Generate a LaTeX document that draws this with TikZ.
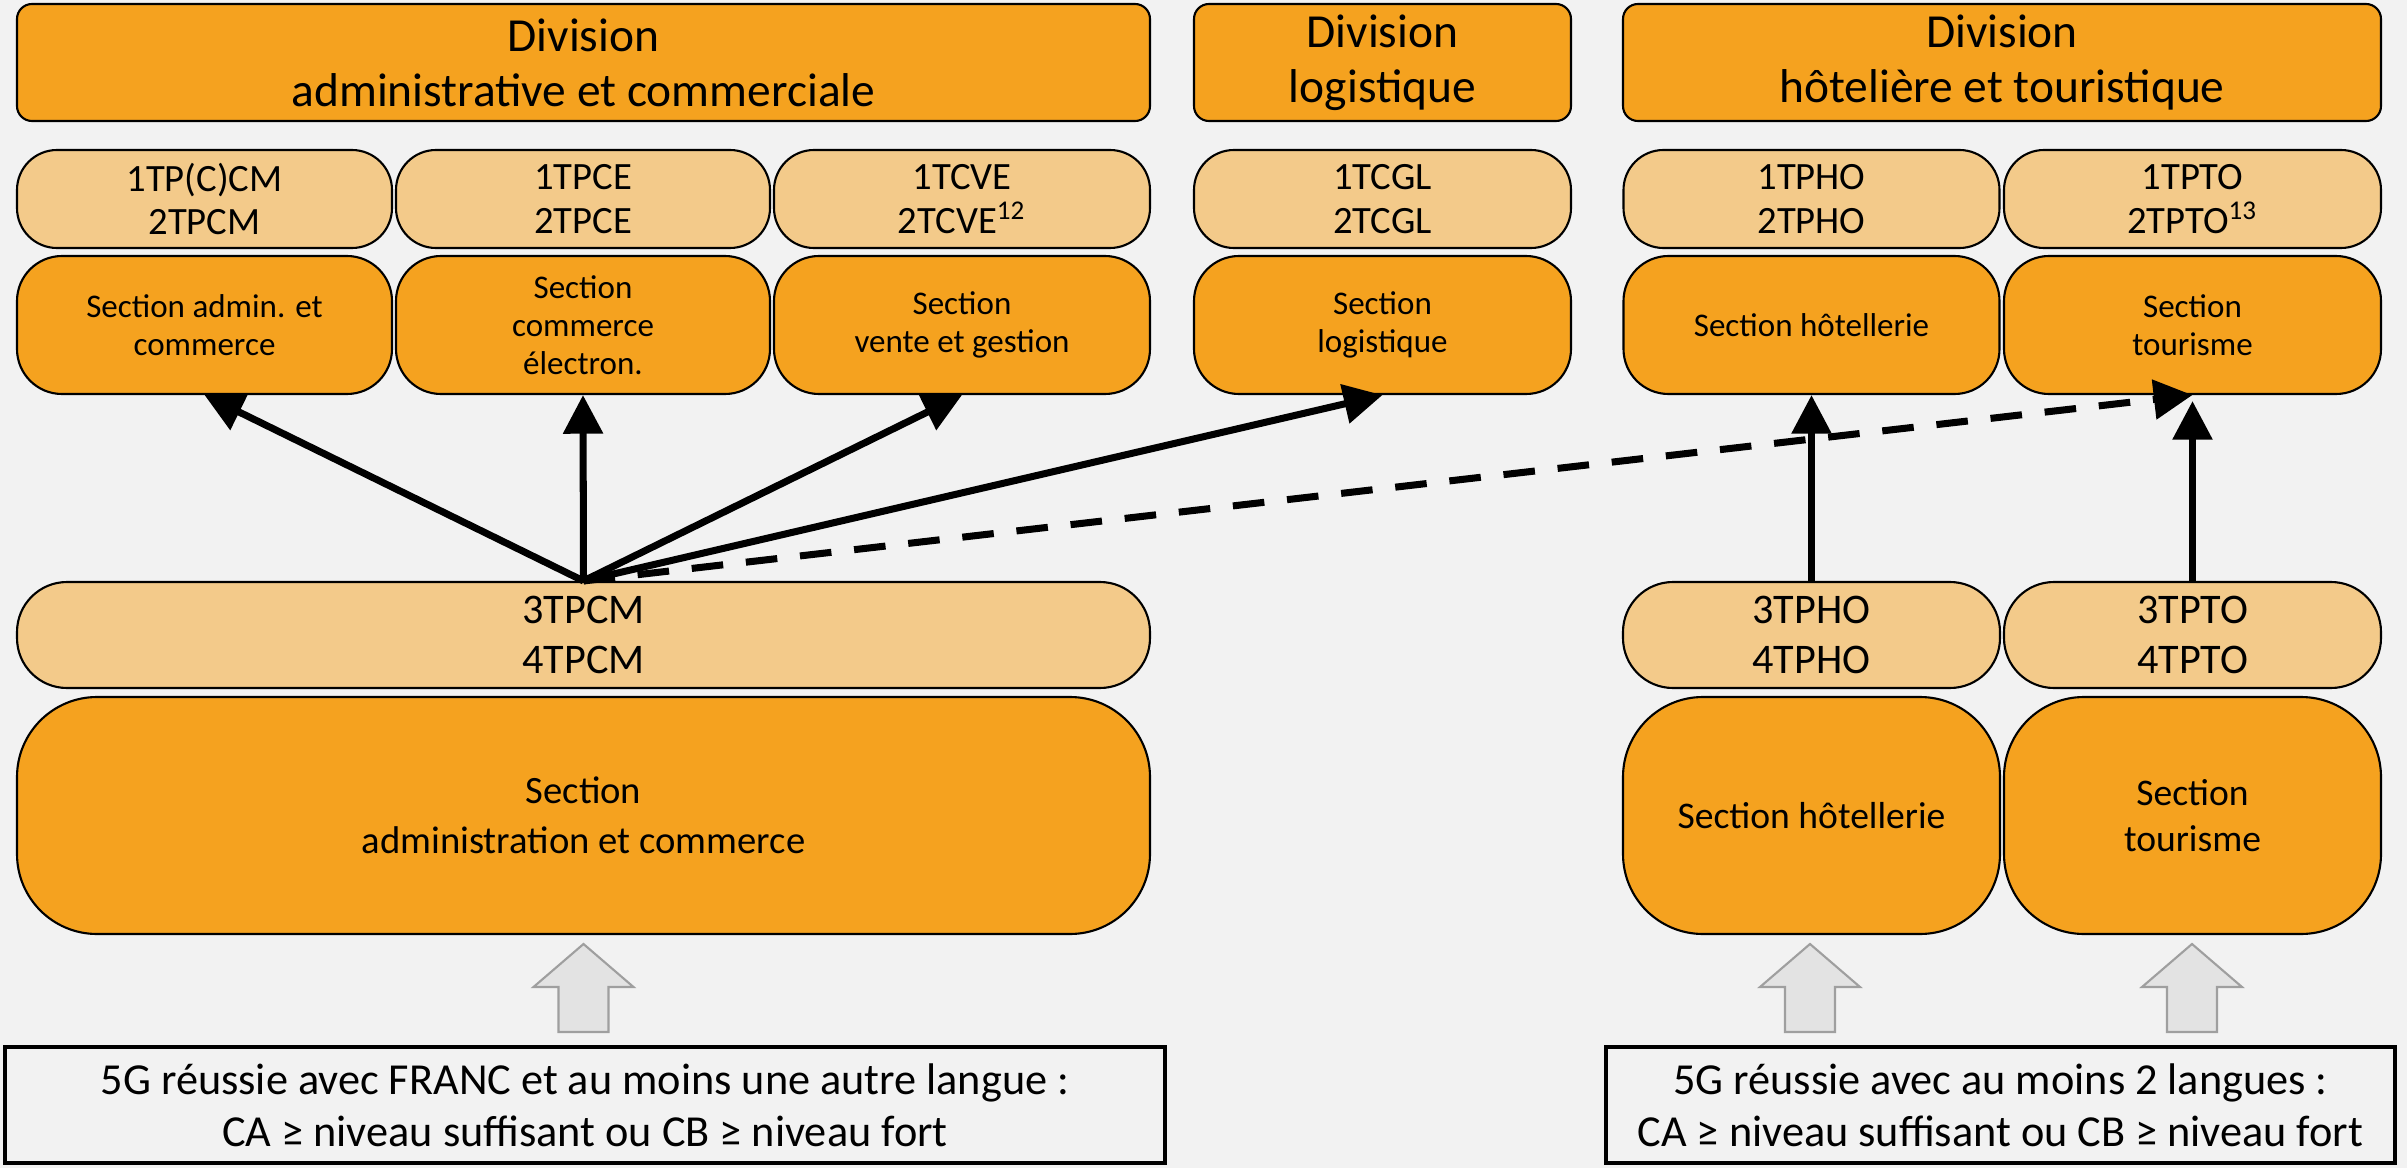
\documentclass[tikz,border=0pt]{standalone}
\usepackage{fontspec}
\setmainfont{Carlito}
\usetikzlibrary{arrows.meta,calc,positioning}
\definecolor{fonce}{HTML}{F5A21F}
\definecolor{clair}{HTML}{F3CA8A}
\definecolor{fond}{HTML}{F2F2F2}
\tikzset{
	division/.style={draw, fill=fonce, line width=0.6pt, rounded corners=1.5mm, align=center,
		inner sep=0pt, minimum height=11.7mm, font=\fontsize{13.5}{15.6}\selectfont},
	annee/.style={draw, fill=clair, line width=0.6pt, rounded corners=4mm, align=center,
		inner sep=0pt, minimum height=9.8mm, font=\fontsize{11}{12.5}\selectfont},
	section/.style={draw, fill=fonce, line width=0.6pt, rounded corners=4.5mm, align=center,
		inner sep=0pt, minimum height=13.8mm, font=\fontsize{9.4}{10.8}\selectfont},
	grande/.style={draw, fill=fonce, line width=0.6pt, rounded corners=8mm, align=center,
		inner sep=0pt, minimum height=23.7mm},
	critere/.style={draw, fill=fond, line width=1.4pt, align=center, inner sep=0pt,
		minimum height=11.6mm, font=\fontsize{12.6}{14.8}\selectfont},
	fleche/.style={-{Triangle[length=11pt,width=11pt]}, line width=2pt},
	bloc/.style={draw=gray!75, fill=gray!22, line width=0.6pt}
}
\begin{document}
\begin{tikzpicture}[x=0.1mm, y=-0.1mm]
	% fond
	\fill[fond] (0,0) rectangle (2407,1168);
	\useasboundingbox (0,0) rectangle (2407,1168);

	% divisions
	\node[division, minimum width=113.3mm] (divAC) at (583.5,62.5) {Division\\administrative et commerciale};
	\node[division, minimum width=37.7mm] (divLG) at (1382.5,62.5) {Division\\logistique};
	\node[division, minimum width=75.8mm] (divHT) at (2002,62.5) {Division\\hôtelière et touristique};

	% 1re et 2e annees
	\node[annee, minimum width=37.5mm] (aCM) at (204.5,199) {1TP(C)CM\\2TPCM};
	\node[annee, minimum width=37.4mm] (aCE) at (583,199) {1TPCE\\2TPCE};
	\node[annee, minimum width=37.6mm] (aVE) at (962,199) {1TCVE\\2TCVE\textsuperscript{12}};
	\node[annee, minimum width=37.7mm] (aGL) at (1382.5,199) {1TCGL\\2TCGL};
	\node[annee, minimum width=37.6mm] (aHO) at (1811.5,199) {1TPHO\\2TPHO};
	\node[annee, minimum width=37.7mm] (aTO) at (2192.5,199) {1TPTO\\2TPTO\textsuperscript{13}};

	% sections du haut
	\node[section, minimum width=37.5mm] (sAC) at (204.5,325) {Section admin. et\\commerce};
	\node[section, minimum width=37.4mm] (sCE) at (583,325) {Section\\commerce\\électron.};
	\node[section, minimum width=37.6mm] (sVG) at (962,325) {Section\\vente et gestion};
	\node[section, minimum width=37.7mm] (sLG) at (1382.5,325) {Section\\logistique};
	\node[section, minimum width=37.6mm] (sHO) at (1811.5,325) {Section hôtellerie};
	\node[section, minimum width=37.7mm] (sTO) at (2192.5,325) {Section\\tourisme};

	% 3e et 4e annees
	\node[annee, rounded corners=5mm, minimum height=10.6mm, minimum width=113.3mm, font=\fontsize{12}{14}\selectfont] (bCM) at (583.5,635) {3TPCM\\4TPCM};
	\node[annee, rounded corners=5mm, minimum height=10.6mm, minimum width=37.7mm, font=\fontsize{12}{14}\selectfont] (bHO) at (1811.5,635) {3TPHO\\4TPHO};
	\node[annee, rounded corners=5mm, minimum height=10.6mm, minimum width=37.7mm, font=\fontsize{12}{14}\selectfont] (bTO) at (2192.5,635) {3TPTO\\4TPTO};

	% sections du bas
	\node[grande, minimum width=113.3mm, font=\fontsize{11}{14.2}\selectfont] (gAC) at (583.5,815.5) {Section\\administration et commerce};
	\node[grande, minimum width=37.7mm, font=\fontsize{10.7}{13}\selectfont] (gHO) at (1811.5,815.5) {Section hôtellerie};
	\node[grande, minimum width=37.7mm, font=\fontsize{10.7}{13}\selectfont] (gTO) at (2192.5,815.5) {Section\\tourisme};

	% conditions
	\node[critere, minimum width=116mm] (cAC) at (585,1105) {5G réussie avec FRANC et au moins une autre langue :\\CA ≥ niveau suffisant ou CB ≥ niveau fort};
	\node[critere, minimum width=78.9mm] (cHT) at (2000.5,1105) {5G réussie avec au moins 2 langues :\\CA ≥ niveau suffisant ou CB ≥ niveau fort};

	% grosses fleches grises
	\draw[bloc, shift={(583.5,0)}] (0,944) -- (50,987) -- (25,987) -- (25,1032) -- (-25,1032) -- (-25,987) -- (-50,987) -- cycle;
	\draw[bloc, shift={(1810,0)}] (0,944) -- (50,987) -- (25,987) -- (25,1032) -- (-25,1032) -- (-25,987) -- (-50,987) -- cycle;
	\draw[bloc, shift={(2192,0)}] (0,944) -- (50,987) -- (25,987) -- (25,1032) -- (-25,1032) -- (-25,987) -- (-50,987) -- cycle;

	% passages
	\draw[fleche] (bCM.north) -- (sAC.south);
	\draw[fleche] (bCM.north) -- (sCE.south);
	\draw[fleche] (bCM.north) -- (sVG.south);
	\draw[fleche] (bCM.north) -- (sLG.south);
	\draw[fleche, dash pattern=on 9pt off 6.5pt] (bCM.north) -- (sTO.south);
	\draw[fleche] (bHO.north) -- (sHO.south);
	\draw[fleche] (bTO.north) -- ($(sTO.south)+(0,6)$);
\end{tikzpicture}
\end{document}
